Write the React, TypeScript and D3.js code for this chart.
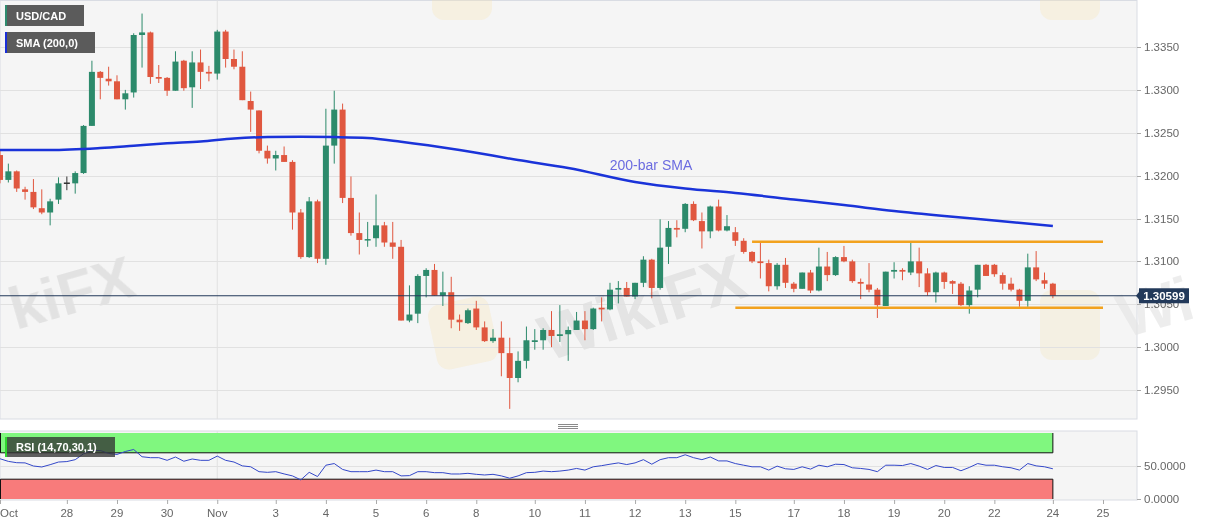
import React from 'react';
import * as d3 from 'd3';

// ---- Data (USD/CAD 4H candles) ----
const opens = [1.3224,1.3195,1.3205,1.3184,1.3181,1.3162,1.3157,1.3172,1.3192,1.3191,1.3203,1.3258,1.3321,1.3313,1.3310,1.3289,1.3297,1.3364,1.3367,1.3315,1.3314,1.3299,1.3334,1.3303,1.3332,1.3321,1.3319,1.3368,1.3336,1.3327,1.3287,1.3276,1.3229,1.3220,1.3224,1.3216,1.3157,1.3105,1.3170,1.3103,1.3235,1.3277,1.3174,1.3133,1.3125,1.3127,1.3142,1.3122,1.3117,1.3031,1.3039,1.3083,1.3090,1.3060,1.3064,1.3032,1.3028,1.3045,1.3023,1.3007,1.3011,1.2993,1.2964,1.2984,1.3006,1.3008,1.3020,1.3013,1.3015,1.3020,1.3031,1.3021,1.3046,1.3044,1.3067,1.3069,1.3059,1.3075,1.3102,1.3069,1.3117,1.3139,1.3138,1.3167,1.3147,1.3135,1.3164,1.3136,1.3134,1.3124,1.3111,1.3100,1.3098,1.3071,1.3096,1.3074,1.3068,1.3087,1.3066,1.3094,1.3084,1.3105,1.3100,1.3076,1.3073,1.3067,1.3048,1.3088,1.3090,1.3087,1.3100,1.3086,1.3064,1.3087,1.3077,1.3074,1.3049,1.3067,1.3096,1.3096,1.3084,1.3074,1.3067,1.3054,1.3093,1.3078,1.3074];
const highs = [1.3230,1.3214,1.3206,1.3187,1.3196,1.3184,1.3173,1.3198,1.3199,1.3205,1.3259,1.3334,1.3322,1.3327,1.3317,1.3300,1.3366,1.3389,1.3368,1.3329,1.3315,1.3345,1.3335,1.3345,1.3347,1.3328,1.3370,1.3370,1.3347,1.3345,1.3298,1.3276,1.3235,1.3229,1.3234,1.3218,1.3161,1.3175,1.3172,1.3278,1.3299,1.3284,1.3199,1.3157,1.3146,1.3178,1.3146,1.3146,1.3125,1.3072,1.3085,1.3092,1.3097,1.3088,1.3082,1.3038,1.3045,1.3054,1.3030,1.3021,1.3030,1.3011,1.2995,1.3024,1.3021,1.3022,1.3042,1.3049,1.3024,1.3041,1.3042,1.3046,1.3058,1.3075,1.3077,1.3076,1.3075,1.3106,1.3103,1.3149,1.3147,1.3148,1.3168,1.3170,1.3157,1.3165,1.3172,1.3154,1.3140,1.3127,1.3112,1.3122,1.3102,1.3098,1.3104,1.3076,1.3087,1.3090,1.3116,1.3111,1.3106,1.3118,1.3102,1.3080,1.3098,1.3069,1.3088,1.3099,1.3092,1.3122,1.3116,1.3092,1.3088,1.3088,1.3078,1.3076,1.3071,1.3096,1.3097,1.3097,1.3087,1.3081,1.3068,1.3109,1.3112,1.3087,1.3075];
const lows = [1.3191,1.3192,1.3181,1.3172,1.3161,1.3155,1.3142,1.3167,1.3183,1.3179,1.3202,1.3258,1.3289,1.3305,1.3289,1.3277,1.3291,1.3326,1.3307,1.3308,1.3293,1.3299,1.3299,1.3279,1.3301,1.3310,1.3312,1.3326,1.3324,1.3288,1.3251,1.3226,1.3214,1.3206,1.3216,1.3137,1.3103,1.3104,1.3098,1.3096,1.3214,1.3168,1.3130,1.3108,1.3117,1.3117,1.3117,1.3103,1.3031,1.3029,1.3028,1.3058,1.3060,1.3048,1.3022,1.3019,1.3027,1.3020,1.3006,1.3005,1.2966,1.2928,1.2959,1.2975,1.2997,1.2997,1.3000,1.3006,1.2984,1.3020,1.3008,1.3020,1.3030,1.3043,1.3051,1.3059,1.3056,1.3070,1.3057,1.3067,1.3097,1.3128,1.3134,1.3147,1.3115,1.3127,1.3135,1.3135,1.3118,1.3109,1.3098,1.3080,1.3065,1.3067,1.3069,1.3064,1.3068,1.3063,1.3065,1.3077,1.3083,1.3099,1.3075,1.3056,1.3064,1.3034,1.3048,1.3080,1.3078,1.3084,1.3070,1.3060,1.3052,1.3068,1.3062,1.3048,1.3039,1.3058,1.3083,1.3082,1.3067,1.3065,1.3047,1.3047,1.3077,1.3068,1.3057];
const closes = [1.3195,1.3205,1.3185,1.3181,1.3163,1.3157,1.3170,1.3191,1.3192,1.3203,1.3258,1.3321,1.3314,1.3310,1.3289,1.3296,1.3364,1.3367,1.3315,1.3313,1.3299,1.3333,1.3302,1.3332,1.3321,1.3319,1.3368,1.3336,1.3327,1.3288,1.3277,1.3229,1.3220,1.3224,1.3216,1.3157,1.3105,1.3170,1.3103,1.3235,1.3277,1.3174,1.3133,1.3125,1.3126,1.3142,1.3122,1.3117,1.3031,1.3038,1.3083,1.3090,1.3060,1.3064,1.3032,1.3029,1.3043,1.3023,1.3007,1.3011,1.2993,1.2964,1.2984,1.3008,1.3008,1.3020,1.3013,1.3015,1.3020,1.3031,1.3021,1.3045,1.3044,1.3067,1.3069,1.3059,1.3075,1.3102,1.3069,1.3116,1.3139,1.3137,1.3167,1.3148,1.3135,1.3164,1.3136,1.3141,1.3124,1.3111,1.3100,1.3098,1.3071,1.3096,1.3075,1.3068,1.3087,1.3066,1.3094,1.3084,1.3105,1.3100,1.3077,1.3074,1.3067,1.3049,1.3088,1.3090,1.3088,1.3100,1.3086,1.3064,1.3087,1.3076,1.3074,1.3049,1.3066,1.3096,1.3083,1.3085,1.3074,1.3067,1.3054,1.3093,1.3079,1.3074,1.30599];

// 200-bar SMA readings (candle index, value)
const smaIdx = [0,6,12,16,20,24,28,32,36,40,44,48,55,62,68,76,82,88,95,101,107,113,119,126];
const smaVals = [1.32299,1.32299,1.32322,1.32349,1.32377,1.32398,1.32433,1.32450,1.32454,1.32450,1.32439,1.32396,1.32299,1.32182,1.32089,1.31926,1.31850,1.31797,1.31722,1.31657,1.31587,1.31529,1.31477,1.31413];

// RSI(14) per candle
const rsiVals = [61,57,55,54.7,50,48.5,52,56,56.7,59.6,68.5,73.5,73.5,69,67.5,72,75,64,62.6,62.6,58.6,63.6,57.2,60.6,58.6,58.6,65,58.6,56,50.2,48.8,41.4,40.4,41.4,38,35,29,40.4,34,51.2,53.7,44.8,41.4,41.4,41.4,43.8,41.4,41.4,35,35.4,41.4,41.4,39.9,39.9,37.9,37.9,38.9,37.4,36.4,37.4,35,31.5,35,39.9,40.4,42.3,41.4,42.3,43.8,46.3,43.8,48.8,50.5,52.7,54.7,52.2,54.7,59.6,52.7,59.6,62.6,62.6,67,62.6,59.6,63.6,57.7,57.7,53.7,51.2,48.8,48.8,43.8,49.8,45.8,44.8,48.8,45.3,51.2,48.8,52.7,52.2,47.3,46.3,44.8,41.4,51.2,51.2,50.7,53.7,49.8,44.8,50.7,47.8,47.8,42.8,47.8,53.7,51.2,51.2,48.8,47.3,43.8,53.7,50.2,48.8,45.8];

// Channel lines
const resistanceLevel = 1.3123;
const supportLevel = 1.3046;
const resistanceStart = 90;
const supportStart = 88;
const channelEnd = 132;
const lastPrice = 1.30599;

// Axis ticks
const priceTicks = [1.2950, 1.3000, 1.3050, 1.3100, 1.3150, 1.3200, 1.3250, 1.3300, 1.3350];
const rsiTicks = [0, 50];
const dateTickIdx = [0, 8, 14, 20, 26, 33, 39, 45, 51, 57, 64, 70, 76, 82, 88, 95, 101, 107, 113, 119, 126, 132];
const dateTickLabels = ['Oct', '28', '29', '30', 'Nov', '3', '4', '5', '6', '8', '10', '11', '12', '13', '15', '17', '18', '19', '20', '22', '24', '25'];

const FONT = "'Liberation Sans', Arial, Helvetica, sans-serif";
const GREEN = '#2c8a6b';
const RED = '#e0573f';

export default function App() {
  const W = 1207, H = 526;
  const plotR = 1137;
  const mainTop = 0.5, mainBottom = 419;
  const rsiTop = 431, rsiBottom = 500;

  const x = d3.scaleLinear().domain([0, 132]).range([0, 1103]);
  const y = d3.scaleLinear().domain([1.295, 1.335]).range([390, 47]);
  const yR = d3.scaleLinear().domain([0, 100]).range([499, 433]);
  const bw = 6;

  const smaPath = d3.line<number>()
    .x((_, i) => x(smaIdx[i]))
    .y(d => y(d))
    .curve(d3.curveMonotoneX)(smaVals) || '';
  const rsiPath = d3.line<number>()
    .x((_, i) => x(i))
    .y(d => yR(d))(rsiVals) || '';

  const lastX = x(closes.length - 1);
  const novX = x(26);

  return (
    <svg width={W} height={H} style={{ position: 'absolute', left: 0, top: 0, background: '#fff' }}
      fontFamily={FONT}>
      <defs>
        <clipPath id="mainClip"><rect x={0} y={0} width={plotR} height={mainBottom} /></clipPath>
        <clipPath id="rsiClip"><rect x={0} y={rsiTop} width={plotR} height={rsiBottom - rsiTop} /></clipPath>
      </defs>

      {/* main panel background */}
      <rect x={0} y={mainTop} width={plotR} height={mainBottom - mainTop} fill="#f5f5f5" stroke="#d9dce3" />

      {/* watermarks */}
      <g clipPath="url(#mainClip)" opacity={0.5}>
        <rect x={432} y={300} width={62} height={66} rx={12} fill="#f6e3b0" opacity={0.6} transform="rotate(-12 463 333)" />
        <rect x={432} y={-30} width={60} height={50} rx={12} fill="#f6e3b0" opacity={0.6} />
        <rect x={1040} y={-30} width={60} height={50} rx={12} fill="#f6e3b0" opacity={0.6} />
        <rect x={1040} y={290} width={60} height={70} rx={12} fill="#f6e3b0" opacity={0.5} />
        <text x={16} y={330} textAnchor="start" fontSize={60} fontWeight="bold" fill="#cfcfcf"
          transform="rotate(-16 16 330)">kiFX</text>
        <text x={640} y={330} textAnchor="middle" fontSize={64} fontWeight="bold" fill="#d2d2d2"
          transform="rotate(-18 640 300)">WikiFX</text>
      </g>
      <text x={1125} y={338} fontSize={62} fontWeight="bold" fill="#e6e6e6" opacity={0.7}
        transform="rotate(-16 1125 338)">Wi</text>

      {/* grid */}
      {priceTicks.map(t => (
        <line key={'g' + t} x1={0} x2={plotR} y1={Math.round(y(t)) + 0.5} y2={Math.round(y(t)) + 0.5} stroke="#e1e1e1" />
      ))}
      <line x1={novX} x2={novX} y1={mainTop} y2={mainBottom} stroke="#e1e1e1" />

      <g clipPath="url(#mainClip)">
        {/* candles */}
        {opens.map((o, i) => {
          const c = closes[i];
          const up = c > o;
          const doji = Math.abs(c - o) < 0.00005;
          const col = doji ? '#333' : up ? GREEN : RED;
          const cx = x(i);
          const top = y(Math.max(o, c));
          const bot = y(Math.min(o, c));
          return (
            <g key={'c' + i}>
              <line x1={cx} x2={cx} y1={y(highs[i])} y2={y(lows[i])} stroke={col} strokeWidth={1} />
              <rect x={cx - bw / 2} y={top} width={bw} height={Math.max(1.5, bot - top)} fill={col} />
            </g>
          );
        })}

        {/* SMA */}
        <path d={smaPath} fill="none" stroke="#1a33d9" strokeWidth={2.5} />

        {/* channel */}
        <line x1={x(resistanceStart)} x2={x(channelEnd)} y1={y(resistanceLevel)} y2={y(resistanceLevel)} stroke="#f2a21e" strokeWidth={2.5} />
        <line x1={x(supportStart)} x2={x(channelEnd)} y1={y(supportLevel)} y2={y(supportLevel)} stroke="#f2a21e" strokeWidth={2.5} />

        {/* last price line */}
        <line x1={0} x2={plotR} y1={y(lastPrice)} y2={y(lastPrice)} stroke="#22395a" strokeWidth={1} />
      </g>

      <text x={651} y={170} textAnchor="middle" fontSize={14} fill="#6b6be0">200-bar SMA</text>

      {/* legend boxes */}
      <rect x={5} y={5} width={79} height={21} fill="#5b5b5b" />
      <rect x={5} y={5} width={2} height={21} fill="#2e8b6e" />
      <text x={16} y={19.5} fontSize={11} fontWeight="bold" fill="#fff">USD/CAD</text>
      <rect x={5} y={32} width={90} height={21} fill="#5b5b5b" />
      <rect x={5} y={32} width={2} height={21} fill="#1a2ed8" />
      <text x={16} y={46.5} fontSize={11} fontWeight="bold" fill="#fff">SMA (200,0)</text>

      {/* price axis */}
      {priceTicks.map(t => (
        <g key={'t' + t}>
          <line x1={plotR} x2={plotR + 4} y1={Math.round(y(t)) + 0.5} y2={Math.round(y(t)) + 0.5} stroke="#aaa" />
          <text x={1144} y={y(t) + 4} fontSize={11.5} fill="#666">{t.toFixed(4)}</text>
        </g>
      ))}
      <path d={`M${plotR - 1},${y(lastPrice)} L${plotR + 3},${y(lastPrice) - 5} L${plotR + 3},${y(lastPrice) + 5} Z`} fill="#22395a" />
      <rect x={plotR + 2} y={y(lastPrice) - 7.5} width={50} height={15} fill="#22395a" />
      <text x={plotR + 27} y={y(lastPrice) + 4} textAnchor="middle" fontSize={11.5} fontWeight="bold" fill="#fff">{lastPrice.toFixed(5)}</text>

      {/* panel separator handle */}
      {[424.5, 426.5, 428.5].map(v => (
        <line key={'h' + v} x1={558} x2={578} y1={v} y2={v} stroke="#8a8a8a" />
      ))}

      {/* RSI panel */}
      <rect x={0} y={rsiTop} width={plotR} height={rsiBottom - rsiTop} fill="#f5f5f5" stroke="#d9dce3" />
      <line x1={0} x2={plotR} y1={Math.round(yR(50)) + 0.5} y2={Math.round(yR(50)) + 0.5} stroke="#e1e1e1" />
      <line x1={novX} x2={novX} y1={rsiTop} y2={rsiBottom} stroke="#e1e1e1" />
      <g clipPath="url(#rsiClip)">
        <rect x={0} y={yR(100)} width={lastX} height={yR(70) - yR(100)} fill="#80f77f" />
        <rect x={0} y={yR(30)} width={lastX} height={yR(0) - yR(30)} fill="#f87b7b" />
        <path d={`M0.5,${yR(100)} L0.5,${yR(70)} L${lastX},${yR(70)} L${lastX},${yR(100)}`} fill="none" stroke="#111" strokeWidth={1} />
        <path d={`M0.5,${yR(0)} L0.5,${yR(30)} L${lastX},${yR(30)} L${lastX},${yR(0)}`} fill="none" stroke="#111" strokeWidth={1} />
        <path d={rsiPath} fill="none" stroke="#3448c9" strokeWidth={1} />
      </g>
      <rect x={5} y={437} width={110} height={20} fill="#333" opacity={0.78} />
      <rect x={5} y={437} width={2} height={20} fill="#2fd62f" />
      <text x={16} y={451} fontSize={11} fontWeight="bold" fill="#fff">RSI (14,70,30,1)</text>

      {rsiTicks.map(t => (
        <g key={'r' + t}>
          <line x1={plotR} x2={plotR + 4} y1={Math.round(yR(t)) + 0.5} y2={Math.round(yR(t)) + 0.5} stroke="#aaa" />
          <text x={1144} y={yR(t) + 4} fontSize={11.5} fill="#666">{t.toFixed(4)}</text>
        </g>
      ))}

      {/* date axis */}
      {dateTickIdx.map((idx, k) => {
        const tx = x(idx);
        return (
          <g key={'d' + k}>
            <line x1={tx + 0.5} x2={tx + 0.5} y1={rsiBottom} y2={rsiBottom + 4} stroke="#aaa" />
            <text x={k === 0 ? 0 : tx} y={517} textAnchor={k === 0 ? 'start' : 'middle'} fontSize={11.5} fill="#666">
              {dateTickLabels[k]}
            </text>
          </g>
        );
      })}
    </svg>
  );
}
